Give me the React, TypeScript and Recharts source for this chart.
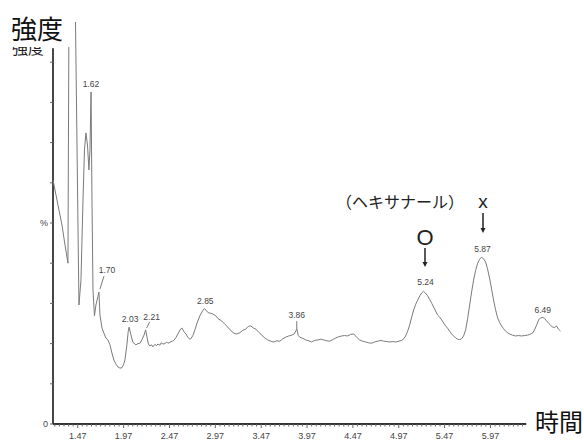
import React from 'react';
import { LineChart, Line, XAxis, YAxis, ReferenceLine, ReferenceDot } from 'recharts';

const times = [
  1.2, 1.222, 1.254, 1.298, 1.331, 1.363, 1.378, 1.432, 1.483, 1.505, 1.527, 1.543, 1.559, 1.576, 1.592, 1.603,
  1.615, 1.625, 1.636, 1.652, 1.668, 1.701, 1.712, 1.734, 1.755, 1.777, 1.799, 1.821, 1.843, 1.864, 1.886, 1.908,
  1.93, 1.952, 1.97, 1.984, 2.006, 2.02, 2.03, 2.045, 2.07, 2.09, 2.104, 2.126, 2.148, 2.17, 2.192, 2.21,
  2.225, 2.24, 2.257, 2.275, 2.289, 2.31, 2.33, 2.344, 2.365, 2.38, 2.398, 2.42, 2.44, 2.453, 2.475, 2.5,
  2.518, 2.54, 2.562, 2.585, 2.605, 2.627, 2.649, 2.67, 2.69, 2.703, 2.725, 2.747, 2.775, 2.801, 2.83, 2.85,
  2.87, 2.89, 2.909, 2.94, 2.975, 3.0, 3.041, 3.07, 3.106, 3.14, 3.172, 3.2, 3.237, 3.27, 3.302, 3.33,
  3.357, 3.385, 3.412, 3.445, 3.477, 3.51, 3.542, 3.575, 3.607, 3.64, 3.673, 3.705, 3.738, 3.77, 3.804, 3.83,
  3.858, 3.875, 3.891, 3.925, 3.956, 3.99, 4.021, 4.055, 4.087, 4.12, 4.152, 4.185, 4.217, 4.25, 4.283, 4.315,
  4.348, 4.38, 4.413, 4.445, 4.479, 4.51, 4.544, 4.575, 4.61, 4.64, 4.675, 4.705, 4.74, 4.775, 4.806, 4.84,
  4.871, 4.905, 4.936, 4.97, 5.002, 5.025, 5.045, 5.067, 5.089, 5.111, 5.133, 5.155, 5.176, 5.2, 5.22, 5.24,
  5.263, 5.285, 5.307, 5.33, 5.35, 5.372, 5.394, 5.416, 5.438, 5.46, 5.481, 5.503, 5.525, 5.546, 5.568, 5.59,
  5.612, 5.633, 5.655, 5.677, 5.699, 5.721, 5.743, 5.765, 5.786, 5.808, 5.83, 5.852, 5.873, 5.895, 5.917, 5.938,
  5.96, 5.982, 6.004, 6.026, 6.048, 6.07, 6.091, 6.113, 6.135, 6.157, 6.178, 6.21, 6.243, 6.276, 6.309, 6.34,
  6.374, 6.4, 6.429, 6.45, 6.473, 6.495, 6.516, 6.54, 6.559, 6.58, 6.603, 6.625, 6.646, 6.668, 6.69, 6.712, 6.734,
];

const intensity = [
  60.7, 58.2, 54.5, 49.5, 44.5, 40.0, 125, 125, 29.6, 35.8, 55.7, 68.2, 72.4, 69.4, 63.2, 68.2,
  82.6, 55.7, 33.3, 26.9, 29.6, 32.8, 27.1, 23.9, 22.6, 21.4, 20.9, 19.7, 17.6, 15.9, 14.9, 14.2,
  13.9, 14.0, 14.8, 15.9, 19.7, 23.0, 24.1, 22.6, 20.4, 19.9, 19.7, 20.0, 20.1, 21.0, 22.1, 23.4,
  21.6, 19.9, 19.4, 19.7, 19.2, 19.8, 19.5, 19.9, 19.6, 20.2, 19.9, 20.0, 20.4, 20.1, 20.3, 20.6,
  20.8, 21.5, 22.4, 23.4, 23.9, 23.0, 22.4, 21.6, 21.1, 21.2, 22.0, 23.4, 25.4, 26.9, 28.1, 28.7,
  28.3, 27.7, 27.6, 27.4, 26.9, 26.2, 25.6, 24.9, 24.1, 23.2, 22.6, 22.4, 22.7, 23.3, 23.6, 24.3,
  24.4, 23.9, 23.6, 22.8, 22.1, 21.4, 20.9, 20.6, 20.4, 20.7, 20.6, 21.2, 21.6, 21.9, 22.1, 22.4,
  23.6, 22.0, 21.6, 21.3, 20.9, 20.7, 20.4, 20.8, 20.9, 21.1, 20.9, 20.7, 20.6, 21.0, 21.4, 21.7,
  21.9, 22.0, 21.9, 22.3, 22.4, 21.6, 20.9, 20.6, 20.4, 20.2, 20.1, 20.4, 20.6, 20.8, 20.6, 20.5,
  20.4, 20.5, 20.4, 20.6, 20.8, 21.2, 21.9, 23.1, 24.6, 26.6, 28.4, 29.8, 30.8, 31.9, 32.6, 33.0,
  32.5, 31.9, 31.0, 30.0, 29.1, 28.1, 27.1, 26.6, 25.9, 25.1, 24.4, 23.8, 23.1, 22.4, 21.9, 21.4,
  21.1, 21.0, 21.2, 21.9, 23.4, 26.2, 29.6, 32.9, 35.8, 38.2, 40.0, 41.0, 41.5, 41.1, 40.3, 38.6,
  36.3, 33.6, 30.8, 28.4, 26.4, 25.2, 24.4, 23.7, 23.1, 22.7, 22.4, 22.1, 21.9, 22.0, 21.9, 22.0,
  22.1, 22.3, 22.6, 23.4, 24.6, 25.9, 26.4, 26.5, 26.3, 25.7, 25.1, 24.6, 24.1, 24.0, 24.4, 23.6, 23.1,
];

const xTickLabels = ['1.47', '1.97', '2.47', '2.97', '3.47', '3.97', '4.47', '4.97', '5.47', '5.97'];
const yTicks = [0, 10, 20, 30, 40, 50, 60, 70, 80, 90];
const yTickLabels: Record<number, string> = { 0: '0', 50: '%' };

const peakTexts = ['1.62', '1.70', '2.03', '2.21', '2.85', '3.86', '5.24', '5.87', '6.49'];
const peakTimes = [1.615, 1.701, 2.03, 2.21, 2.85, 3.858, 5.24, 5.873, 6.54];
const peakValues = [82.6, 32.8, 24.1, 23.4, 28.7, 23.6, 33.0, 41.5, 26.5];

// label layout (pixel offsets from peak): dx, dy (text center), leader segment
const peakLayout = [
  { dx: 0, dy: -8, lead: null },
  { dx: 8, dy: -22, lead: [1, -3, 5, -16] },
  { dx: 1, dy: -8, lead: null },
  { dx: 6, dy: -13, lead: [1, -2, 4, -8] },
  { dx: 1, dy: -8, lead: null },
  { dx: 0, dy: -14, lead: [0, 0, 0, -8] },
  { dx: 2, dy: -9, lead: null },
  { dx: 1, dy: -8, lead: null },
  { dx: 0, dy: -7, lead: null },
];

const data = times.map((t, i) => ({ t, v: intensity[i] }));

const minorTicks: number[] = [];
for (let k = 0; k <= 102; k++) minorTicks.push(+(1.22 + k * 0.05).toFixed(2));

const numFont = '"Liberation Sans", Arial, sans-serif';
const cjkFont = '"Noto Sans CJK JP", "Noto Sans CJK SC", sans-serif';

const XTick = (props: any) => {
  const { x, y, payload } = props;
  const label = payload.value.toFixed(2);
  const major = xTickLabels.includes(label);
  return (
    <g>
      <line x1={x} x2={x} y1={y} y2={y + (major ? 4 : 2.5)} stroke="#666" strokeWidth={1} />
      {major && (
        <text x={x} y={y + 15} textAnchor="middle" fontSize={9} fill="#444" fontFamily={numFont}>
          {label}
        </text>
      )}
    </g>
  );
};

const YTick = (props: any) => {
  const { x, y, payload } = props;
  const label = yTickLabels[payload.value];
  return (
    <g>
      <line x1={x - 3} x2={x} y1={y} y2={y} stroke="#666" strokeWidth={1} />
      {label && (
        <text x={x - 5} y={y + 3} textAnchor="end" fontSize={9} fill="#444" fontFamily={numFont}>
          {label}
        </text>
      )}
    </g>
  );
};

const makePeakShape = (i: number) => (p: any) => {
  const { cx, cy } = p;
  const L = peakLayout[i];
  return (
    <g>
      {L.lead && (
        <line x1={cx + L.lead[0]} y1={cy + L.lead[1]} x2={cx + L.lead[2]} y2={cy + L.lead[3]} stroke="#555" strokeWidth={0.8} />
      )}
      <text x={cx + L.dx} y={cy + L.dy + 3} textAnchor="middle" fontSize={8.5} fill="#444" fontFamily={numFont}>
        {peakTexts[i]}
      </text>
    </g>
  );
};

const Arrow = ({ x, y1, y2 }: { x: number; y1: number; y2: number }) => (
  <g>
    <line x1={x} x2={x} y1={y1} y2={y2 - 4} stroke="#222" strokeWidth={1.5} />
    <path d={`M${x - 2.5},${y2 - 5} L${x + 2.5},${y2 - 5} L${x},${y2} Z`} fill="#222" />
  </g>
);

export default function App() {
  return (
    <div style={{ position: 'absolute', left: 0, top: 0, width: 584, height: 440, background: '#fff' }}>
      <LineChart width={584} height={440} data={data} margin={{ top: 22, right: 22, left: 0, bottom: 0 }}>
        <XAxis
          dataKey="t"
          type="number"
          domain={[1.2, 6.75]}
          allowDataOverflow
          ticks={minorTicks}
          interval={0}
          tick={<XTick />}
          tickLine={false}
          axisLine={false}
          tickSize={0}
          tickMargin={0}
          height={16}
        />
        <YAxis
          type="number"
          domain={[0, 100]}
          allowDataOverflow
          ticks={yTicks}
          interval={0}
          tick={<YTick />}
          tickLine={false}
          axisLine={false}
          tickSize={0}
          tickMargin={0}
          width={53}
        />
        <ReferenceLine segment={[{ x: 1.2, y: 0 }, { x: 6.36, y: 0 }]} stroke="#333" strokeWidth={1.8} />
        <ReferenceLine segment={[{ x: 1.2, y: 0 }, { x: 1.2, y: 93.5 }]} stroke="#333" strokeWidth={1.8} />
        <Line
          type="linear"
          dataKey="v"
          stroke="#7a7a7a"
          strokeWidth={1}
          dot={false}
          isAnimationActive={false}
        />
        {peakTimes.map((t, i) => (
          <ReferenceDot key={i} x={t} y={peakValues[i]} r={1} shape={makePeakShape(i)} />
        ))}
      </LineChart>
      <svg width={584} height={440} style={{ position: 'absolute', left: 0, top: 0, pointerEvents: 'none' }}>
        <defs>
          <clipPath id="smallLabelClip">
            <rect x={8} y={47} width={60} height={20} />
          </clipPath>
        </defs>
        <g clipPath="url(#smallLabelClip)">
          <text x={12} y={54} fontSize={16} fill="#222" fontFamily={cjkFont}>強度</text>
        </g>
        <rect x={8} y={0} width={63.5} height={47} fill="#fff" />
        <text x={11} y={39} fontSize={26} fill="#111" fontFamily={cjkFont}>強度</text>
        <text x={535} y={431} fontSize={24} fill="#111" fontFamily={cjkFont}>時間</text>
        <text x={400} y={208} fontSize={16} textAnchor="middle" fill="#222" fontFamily={cjkFont}>（ヘキサナール）</text>
        <text x={483} y={208} fontSize={19} textAnchor="middle" fill="#222" fontFamily={numFont}>x</text>
        <Arrow x={483} y1={213} y2={233} />
        <text x={425} y={245} fontSize={22} textAnchor="middle" fill="#222" fontFamily={numFont}>O</text>
        <Arrow x={425} y1={248} y2={267} />
      </svg>
    </div>
  );
}
